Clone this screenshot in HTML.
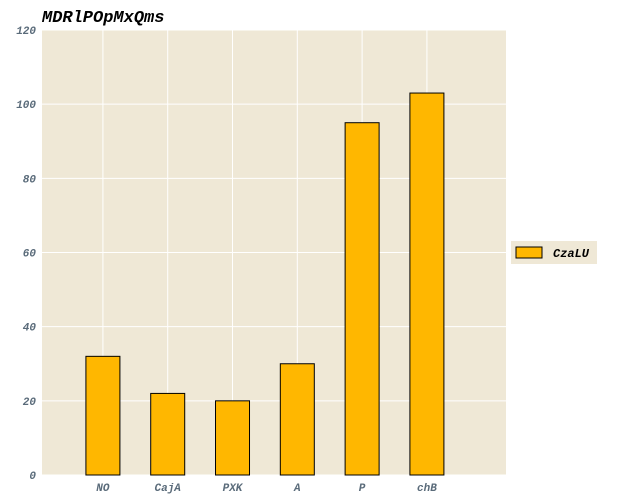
<!DOCTYPE html>
<html><head><meta charset="utf-8"><style>
body{margin:0;background:#fff;}
svg{display:block;}
text{font-family:"Liberation Mono",monospace;font-style:italic;font-weight:bold;}
</style></head><body>
<svg id="chart" width="630" height="504">
<rect x="42" y="30" width="464" height="445" fill="#efe8d6"/>
<g id="grid"></g><g id="bars"></g><g id="axes"></g>
<text x="42" y="22" font-size="17" fill="#000">MDRlPOpMxQms</text>
<g>
<rect x="511" y="241" width="86" height="23" fill="#efe8d6"/>
<rect x="516" y="247" width="26" height="11" fill="#ffb700" stroke="#000" stroke-width="1"/>
<text x="553" y="257" font-size="12" fill="#000">CzaLU</text>
</g>
</svg>
<script>
const categories=["NO","CajA","PXK","A","P","chB"];
const values=[32,22,20,30,95,103];
const yTicks=[0,20,40,60,80,100,120];
const NS="http://www.w3.org/2000/svg";
const L=42,R=506,T=30,B=475;
function y(v){return B-(v/120)*(B-T);}
function x(i){return L+(i+0.94)*64.8;}
function mk(t,a,p){const e=document.createElementNS(NS,t);for(const k in a)e.setAttribute(k,a[k]);p.appendChild(e);return e;}
const grid=document.getElementById('grid'),bars=document.getElementById('bars'),axes=document.getElementById('axes');
yTicks.forEach(v=>{
 const g=mk('line',{x1:L,x2:R,y1:y(v),y2:y(v),stroke:'#fff','stroke-width':1},grid);
 
 
 const t=mk('text',{x:L-6,y:y(v)+4,'text-anchor':'end','font-size':11,fill:'#5a6b7a'},axes);
 t.textContent=v;
 
 
});
categories.forEach((c,i)=>{
 const g=mk('line',{x1:x(i),x2:x(i),y1:T,y2:B,stroke:'#fff','stroke-width':1},grid);
 
 
 const b=mk('rect',{x:x(i)-17,y:y(values[i]),width:34,height:B-y(values[i]),fill:'#ffb700',stroke:'#000','stroke-width':1},bars);
 
 
 const t=mk('text',{x:x(i),y:B+16,'text-anchor':'middle','font-size':11,fill:'#5a6b7a'},axes);
 t.textContent=c;
 
 
});
</script>
</body></html>
